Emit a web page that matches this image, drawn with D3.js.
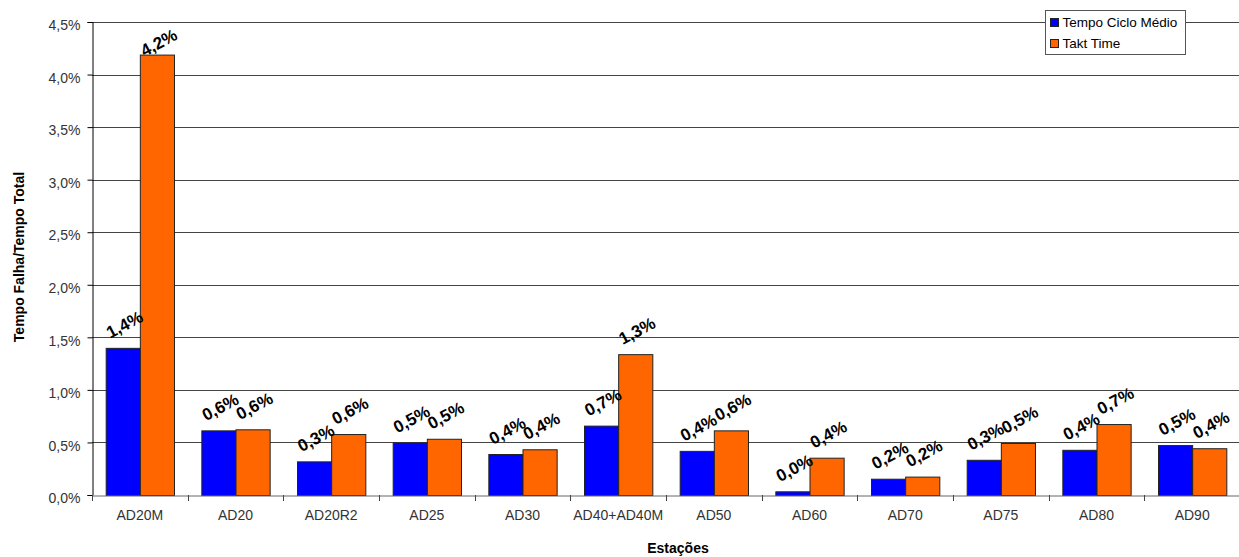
<!DOCTYPE html>
<html>
<head>
<meta charset="utf-8">
<script src="https://cdn.jsdelivr.net/npm/d3@7"></script>
<style>
  html, body { margin: 0; padding: 0; background: #fff; }
  svg { display: block; font-family: "Liberation Sans", Arial, sans-serif; }
</style>
</head>
<body>
<svg id="chart" width="1239" height="557"></svg>
<script>
// Stations on the horizontal axis
const estacoes = ["AD20M", "AD20", "AD20R2", "AD25", "AD30", "AD40+AD40M", "AD50", "AD60", "AD70", "AD75", "AD80", "AD90"];
// Failure time / total time (%) for each reference time
const tempoCicloMedio = [1.40, 0.615, 0.32, 0.50, 0.39, 0.66, 0.42, 0.035, 0.155, 0.335, 0.43, 0.475];
const taktTime        = [4.19, 0.625, 0.58, 0.535, 0.435, 1.34, 0.615, 0.355, 0.175, 0.495, 0.675, 0.445];
const seriesNames = ["Tempo Ciclo Médio", "Takt Time"];
const yTicks = [0, 0.5, 1.0, 1.5, 2.0, 2.5, 3.0, 3.5, 4.0, 4.5];

const colors = { "Tempo Ciclo Médio": "#0000FF", "Takt Time": "#FF6600" };
const seriesValues = { "Tempo Ciclo Médio": tempoCicloMedio, "Takt Time": taktTime };

const pt = d3.formatLocale({ decimal: ",", thousands: ".", grouping: [3], currency: ["", ""] });
const fmt = v => pt.format(".1f")(v) + "%";

const svg = d3.select("#chart");
const plotLeft = 92, plotRight = 1240, plotTop = 22, plotBottom = 495;

const x0 = d3.scaleBand().domain(estacoes).range([plotLeft, plotRight]).padding(0);
const bw = x0.bandwidth();
const x1 = d3.scaleBand().domain(seriesNames).range([bw * 0.143, bw * 0.857]).padding(0);
const y = d3.scaleLinear().domain([0, 4.5]).range([plotBottom, plotTop]);

// Horizontal gridlines
svg.append("g").selectAll("line").data(yTicks.filter(t => t > 0)).join("line")
  .attr("x1", plotLeft).attr("x2", plotRight)
  .attr("y1", d => Math.round(y(d)) + 0.5).attr("y2", d => Math.round(y(d)) + 0.5)
  .attr("stroke", "#444").attr("stroke-width", 1);

// Y axis
const yAxis = svg.append("g").attr("transform", `translate(${plotLeft + 0.5},0)`)
  .call(d3.axisLeft(y).tickValues(yTicks).tickFormat(fmt).tickSize(5).tickPadding(7));
yAxis.select(".domain").attr("stroke", "#000");
yAxis.selectAll(".tick line").attr("stroke", "#000");
yAxis.selectAll(".tick text").attr("font-size", 14).attr("fill", "#333")
  .attr("font-family", "Liberation Sans, Arial, sans-serif").attr("dy", "0.55em");

// Bars
const rows = estacoes.map((c, i) => ({ c, vals: seriesNames.map(s => ({ s, v: seriesValues[s][i] })) }));
const groups = svg.append("g").selectAll("g").data(rows).join("g")
  .attr("transform", d => `translate(${x0(d.c)},0)`);
groups.selectAll("rect").data(d => d.vals).join("rect")
  .attr("x", d => x1(d.s) + 0.5)
  .attr("y", d => y(d.v) + 0.5)
  .attr("width", x1.bandwidth())
  .attr("height", d => Math.max(0, y(0) - y(d.v)))
  .attr("fill", d => colors[d.s])
  .attr("stroke", "#222").attr("stroke-width", 1);

// X axis
const xAxis = svg.append("g").attr("transform", `translate(0,${plotBottom + 0.5})`)
  .call(d3.axisBottom(x0).tickSize(0).tickPadding(15));
xAxis.select(".domain").attr("stroke", "#666");
xAxis.selectAll(".tick text").attr("font-size", 14).attr("fill", "#333")
  .attr("font-family", "Liberation Sans, Arial, sans-serif");
// Category separators
svg.append("g").selectAll("line").data(estacoes.map(c => x0(c)).concat([plotRight])).join("line")
  .attr("x1", d => Math.round(d) + 0.5).attr("x2", d => Math.round(d) + 0.5)
  .attr("y1", plotBottom).attr("y2", plotBottom + 6)
  .attr("stroke", "#444");

// Value labels
groups.selectAll("text.val").data(d => d.vals).join("text")
  .attr("class", "val")
  .attr("transform", d => {
    const cx = x1(d.s) + x1.bandwidth() / 2 + 2;
    const cy = Math.max(y(d.v) - 23, 43);
    return `translate(${cx},${cy}) rotate(-28)`;
  })
  .attr("text-anchor", "middle")
  .attr("dominant-baseline", "central")
  .attr("font-size", 17).attr("font-weight", "bold").attr("fill", "#000")
  .text(d => fmt(d.v));

// Axis titles
svg.append("text")
  .attr("transform", `translate(24,257) rotate(-90)`)
  .attr("text-anchor", "middle")
  .attr("font-size", 14).attr("font-weight", "bold").attr("fill", "#000")
  .text("Tempo Falha/Tempo Total");
svg.append("text")
  .attr("x", 678).attr("y", 553)
  .attr("text-anchor", "middle")
  .attr("font-size", 14).attr("font-weight", "bold").attr("fill", "#000")
  .text("Estações");

// Legend
const lg = svg.append("g").attr("transform", "translate(1045.5,10.5)");
lg.append("rect").attr("width", 140).attr("height", 44).attr("fill", "#fff").attr("stroke", "#555");
seriesNames.forEach((s, i) => {
  lg.append("rect").attr("x", 5).attr("y", 8 + i * 21).attr("width", 8).attr("height", 8)
    .attr("fill", colors[s]).attr("stroke", "#222");
  lg.append("text").attr("x", 17).attr("y", 12 + i * 21)
    .attr("dominant-baseline", "central")
    .attr("font-size", 13.5).attr("fill", "#000").text(s);
});
</script>
</body>
</html>
